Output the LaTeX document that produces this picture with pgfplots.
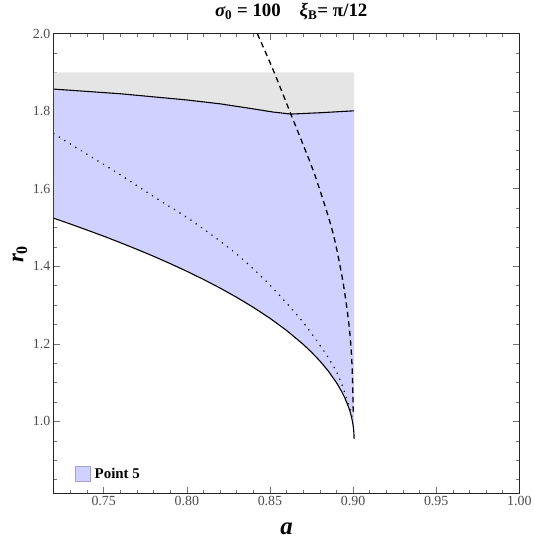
\documentclass[border=0pt]{standalone}
\usepackage{pgfplots}
\pgfplotsset{compat=1.18}
\usepgfplotslibrary{fillbetween}
\usepackage{fontspec}
\setmainfont{Liberation Serif}

\definecolor{regblue}{RGB}{209,209,255}
\definecolor{reggray}{RGB}{229,229,229}
\definecolor{legedge}{RGB}{160,160,215}

\begin{document}
\begin{tikzpicture}
\begin{axis}[
  scale only axis, width=467bp, height=461bp,
  xmin=0.72, xmax=1.0, ymin=0.815, ymax=2.0,
  xtick={0.75,0.8,0.85,0.9,0.95,1.0},
  ytick={1.0,1.2,1.4,1.6,1.8,2.0},
  minor xtick={0.73,0.74,0.76,0.77,0.78,0.79,0.81,0.82,0.83,0.84,0.86,0.87,0.88,0.89,0.91,0.92,0.93,0.94,0.96,0.97,0.98,0.99},
  minor ytick={0.85,0.9,0.95,1.05,1.1,1.15,1.25,1.3,1.35,1.45,1.5,1.55,1.65,1.7,1.75,1.85,1.9,1.95},
  xticklabel style={/pgf/number format/.cd, fixed, fixed zerofill, precision=2},
  yticklabel style={/pgf/number format/.cd, fixed, fixed zerofill, precision=1},
  /pgf/number format/assume math mode=true,
  ticklabel style={font=\fontsize{14}{14}\selectfont, text=black!70},
  tick align=inside, major tick length=6bp, minor tick length=3.5bp,
  tick style={black!55, line width=0.6bp},
  axis line style={black!85, line width=0.8bp},
  xlabel={\fontsize{25}{25}\selectfont\bfseries\itshape a},
  ylabel={\fontsize{23}{23}\selectfont\bfseries\itshape r\textsubscript{\upshape 0}},
  xlabel style={at={(axis description cs:0.5,-0.077)}, anchor=center},
  ylabel style={at={(axis description cs:-0.073,0.52)}, anchor=center, rotate=0},
  title={\fontsize{19}{19}\selectfont\bfseries\itshape σ\textsubscript{\upshape 0}\upshape\ = 100\quad\itshape ξ\textsubscript{\upshape B}\upshape= π/12},
  title style={at={(axis description cs:0.51,1.035)}, anchor=center},
  legend style={draw=none, fill=none, at={(axis description cs:0.045,0.025)}, anchor=south west,
    font=\fontsize{15}{15}\selectfont\bfseries, inner sep=0pt, row sep=0pt},
  legend cell align=left,
]
% gray band up to r0 = 1.9
\addplot[draw=none, name path=top, forget plot] coordinates {(0.72,1.9) (0.9006,1.9)};
% upper boundary
\addplot[black, line width=1.1bp, name path=upper, forget plot] coordinates {
(0.72,1.857) (0.74,1.851) (0.76,1.845) (0.78,1.837) (0.80,1.829) (0.82,1.819)
(0.84,1.806) (0.8516,1.798) (0.8626,1.7926) (0.88,1.796) (0.9006,1.801)};
% lower boundary
\addplot[black, line width=1.1bp, name path=lower, forget plot] coordinates {
(0.72,1.524) (0.73,1.509) (0.74,1.4935) (0.75,1.4777) (0.76,1.4611) (0.77,1.4438)
(0.78,1.4259) (0.79,1.4070) (0.80,1.3872) (0.81,1.3662) (0.82,1.3439) (0.83,1.3200)
(0.84,1.2942) (0.85,1.2660) (0.86,1.2346) (0.87,1.1988) (0.875,1.1785) (0.88,1.1560)
(0.885,1.1305) (0.89,1.1001) (0.893,1.0781) (0.895,1.0610) (0.897,1.0401) (0.898,1.0280)
(0.899,1.0123) (0.8996,1.0003) (0.9000,0.9901) (0.9003,0.9798) (0.9005,0.9693) (0.9006,0.955)};
\addplot[reggray, forget plot] fill between[of=upper and top];
\addplot[regblue, forget plot] fill between[of=lower and upper];
% dotted curve
\addplot[black, line width=1.7bp, line cap=round, dash pattern=on 0pt off 6.5bp, smooth, forget plot] coordinates {
(0.720,1.742) (0.740,1.689) (0.760,1.636) (0.780,1.580) (0.8026,1.5185) (0.8276,1.440)
(0.8476,1.362) (0.8676,1.268) (0.8816,1.187) (0.8906,1.123) (0.8966,1.054) (0.8995,1.010)};
% dashed curve
\addplot[black, line width=1.3bp, dash pattern=on 5.5bp off 4bp, smooth, tension=0.5, forget plot] coordinates {
(0.8424,2.000) (0.8506,1.920) (0.8566,1.857) (0.8626,1.792) (0.8700,1.713) (0.8776,1.628)
(0.8876,1.491) (0.8936,1.368) (0.8970,1.268) (0.8986,1.200) (0.8996,1.120) (0.9001,1.020)};
\addlegendimage{legend image code/.code={\draw[fill=regblue, draw=legedge, line width=0.8bp] (0bp,-7.5bp) rectangle (15bp,7.5bp);}}
\addlegendentry{\hspace{2bp}Point 5}
\end{axis}
\path[use as bounding box] (-54bp,-55bp) rectangle (480bp,493bp);
\end{tikzpicture}
\end{document}
